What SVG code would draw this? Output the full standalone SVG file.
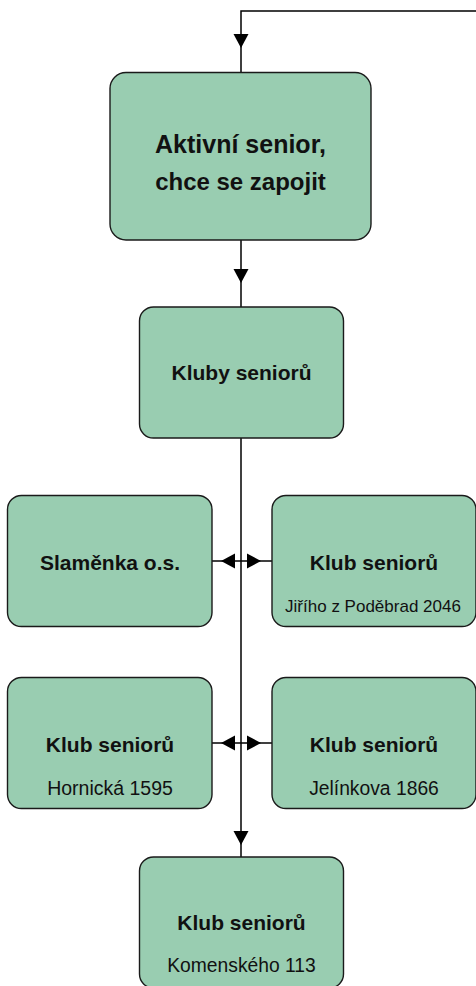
<svg xmlns="http://www.w3.org/2000/svg" width="476" height="986" viewBox="0 0 476 986">
<style>
.box{fill:#99cdb1;stroke:#1a1a1a;stroke-width:1.4}
.t{font-family:"Liberation Sans",Arial,sans-serif;font-weight:bold;fill:#111;text-anchor:middle}
.s{font-family:"Liberation Sans",Arial,sans-serif;fill:#111;text-anchor:middle}
.ln{fill:none;stroke:#000;stroke-width:1.5}
.ah{fill:#000}
</style>
<rect width="476" height="986" fill="#fff"/>
<g id="connectors">
<path class="ln" d="M476,11 H241 V72"/>
<polygon class="ah" points="233.5,34 248.5,34 241,48"/>
<path class="ln" d="M241,240 V307"/>
<polygon class="ah" points="233.5,269 248.5,269 241,283"/>
<path class="ln" d="M241,438 V857"/>
<polygon class="ah" points="233.5,831 248.5,831 241,845"/>
<path class="ln" d="M212,561 H272"/>
<polygon class="ah" points="221,561 235,553.5 235,568.5"/>
<polygon class="ah" points="261,561 247,553.5 247,568.5"/>
<path class="ln" d="M212,743 H272"/>
<polygon class="ah" points="221,743 235,735.5 235,750.5"/>
<polygon class="ah" points="261,743 247,735.5 247,750.5"/>
</g>
<g id="n1">
<rect class="box" x="110" y="72.5" width="261" height="167.5" rx="16"/>
<text class="t" x="240.5" y="153" font-size="25">Aktivní senior,</text>
<text class="t" x="240.5" y="190" font-size="24">chce se zapojit</text>
</g>
<g id="n2">
<rect class="box" x="139.5" y="307" width="204" height="131" rx="14"/>
<text class="t" x="241.5" y="380" font-size="21">Kluby seniorů</text>
</g>
<g id="n3">
<rect class="box" x="7.5" y="495.5" width="204.5" height="131" rx="14"/>
<text class="t" x="110" y="570" font-size="21">Slaměnka o.s.</text>
</g>
<g id="n4">
<rect class="box" x="272" y="495.5" width="204" height="131" rx="14"/>
<text class="t" x="374" y="570" font-size="21">Klub seniorů</text>
<text class="s" x="373" y="612" font-size="17">Jiřího z Poděbrad 2046</text>
</g>
<g id="n5">
<rect class="box" x="7.5" y="677.5" width="204.5" height="131" rx="14"/>
<text class="t" x="110" y="752" font-size="21">Klub seniorů</text>
<text class="s" x="110" y="795" font-size="19.5">Hornická 1595</text>
</g>
<g id="n6">
<rect class="box" x="272" y="677.5" width="204" height="131" rx="14"/>
<text class="t" x="374" y="752" font-size="21">Klub seniorů</text>
<text class="s" x="374" y="795" font-size="19.3">Jelínkova 1866</text>
</g>
<g id="n7">
<rect class="box" x="139.5" y="857" width="204" height="131" rx="14"/>
<text class="t" x="241.5" y="930" font-size="21">Klub seniorů</text>
<text class="s" x="241.5" y="972" font-size="19.3">Komenského 113</text>
</g>
</svg>
